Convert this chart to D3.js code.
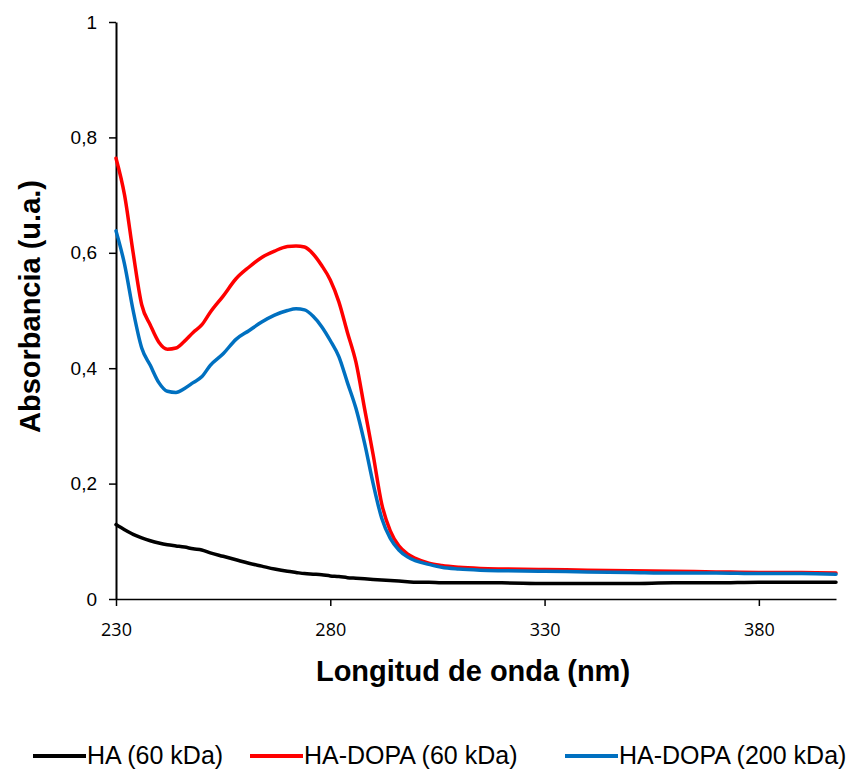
<!DOCTYPE html>
<html>
<head>
<meta charset="utf-8">
<script src="https://cdn.jsdelivr.net/npm/d3@7"></script>
<style>
  body { margin: 0; background: #fff; }
  text { font-family: "Liberation Sans", Arial, sans-serif; }
</style>
</head>
<body>
<div id="chart"></div>
<script>
'use strict';

// wavelength (nm)
const wavelengths = [230, 232, 234, 236, 238, 240, 242, 244, 246, 248, 250, 252, 255, 258, 261, 264, 267, 270, 272, 274,
    276, 278, 280, 282, 284, 286, 288, 290, 292, 294, 296, 298, 300, 303, 306, 310, 315, 320, 330, 340,
    350, 360, 370, 380, 390, 398];

const haValues = [0.129, 0.120, 0.112, 0.106, 0.101, 0.097, 0.094, 0.092, 0.090, 0.087, 0.085, 0.080, 0.074, 0.068, 0.062, 0.057, 0.052, 0.048, 0.046, 0.044,
    0.043, 0.042, 0.040, 0.039, 0.037, 0.036, 0.035, 0.034, 0.033, 0.032, 0.031, 0.030, 0.029, 0.029, 0.028, 0.028, 0.028, 0.028, 0.027, 0.027,
    0.027, 0.028, 0.028, 0.029, 0.029, 0.029];

const haDopa60Values = [0.764, 0.700, 0.600, 0.510, 0.475, 0.445, 0.433, 0.435, 0.447, 0.462, 0.475, 0.497, 0.525, 0.555, 0.575, 0.592, 0.603, 0.611, 0.612, 0.610,
    0.598, 0.578, 0.553, 0.515, 0.462, 0.410, 0.330, 0.250, 0.165, 0.118, 0.092, 0.078, 0.070, 0.062, 0.058, 0.055, 0.053, 0.052, 0.051, 0.050,
    0.049, 0.048, 0.047, 0.046, 0.046, 0.045];

const haDopa200Values = [0.638, 0.580, 0.500, 0.435, 0.405, 0.375, 0.360, 0.358, 0.365, 0.375, 0.385, 0.405, 0.425, 0.450, 0.465, 0.480, 0.492, 0.500, 0.503, 0.501,
    0.490, 0.472, 0.448, 0.420, 0.375, 0.330, 0.270, 0.200, 0.140, 0.105, 0.085, 0.073, 0.066, 0.060, 0.055, 0.052, 0.050, 0.049, 0.048, 0.047,
    0.046, 0.045, 0.045, 0.044, 0.044, 0.043];

const seriesNames = ['HA (60 kDa)', 'HA-DOPA (60 kDa)', 'HA-DOPA (200 kDa)'];
const seriesColors = ['#000000', '#ff0000', '#0070c0'];

const xTicks = [230, 280, 330, 380];
const yTicks = [0, 0.2, 0.4, 0.6, 0.8, 1];

const width = 855, height = 772;
const margin = {top: 22, right: 19, bottom: 173, left: 116};
const innerW = width - margin.left - margin.right;
const innerH = height - margin.top - margin.bottom;

const svg = d3.select('#chart').append('svg')
    .attr('width', width)
    .attr('height', height);

const g = svg.append('g')
    .attr('transform', 'translate(' + margin.left + ',' + margin.top + ')');

const x = d3.scaleLinear().domain([230, 398]).range([0, innerW]);
const y = d3.scaleLinear().domain([0, 1]).range([innerH, 0]);

// x axis
const xAxis = g.append('g')
    .attr('transform', 'translate(0,' + innerH + ')')
    .call(d3.axisBottom(x).tickValues(xTicks).tickSize(7).tickSizeOuter(0).tickPadding(17));
xAxis.select('.domain').attr('stroke', '#000').attr('stroke-width', 1.5);
xAxis.selectAll('.tick line').attr('stroke', '#000').attr('stroke-width', 1.5);
xAxis.selectAll('text')
    .style('font-family', '"Open Sans", "Liberation Sans", sans-serif')
    .style('font-size', '18px').attr('fill', '#000');

// y axis
const fmt = d => d === 0 ? '0' : d === 1 ? '1' : d3.format('.1f')(d).replace('.', ',');
const yAxis = g.append('g')
    .call(d3.axisLeft(y).tickValues(yTicks).tickFormat(fmt).tickSize(7).tickSizeOuter(0).tickPadding(12));
yAxis.select('.domain').attr('stroke', '#000').attr('stroke-width', 2);
yAxis.selectAll('.tick line').attr('stroke', '#000').attr('stroke-width', 1.5);
yAxis.selectAll('text').style('font-size', '19px').attr('fill', '#000');

// axis titles
g.append('text')
    .attr('x', innerW / 2 - 3)
    .attr('y', innerH + 82)
    .style('text-anchor', 'middle')
    .style('font-size', '29px')
    .style('font-weight', 'bold')
    .text('Longitud de onda (nm)');

g.append('text')
    .attr('transform', 'rotate(-90)')
    .attr('x', -(innerH / 2) + 4)
    .attr('y', -76)
    .style('text-anchor', 'middle')
    .style('font-size', '29px')
    .style('font-weight', 'bold')
    .text('Absorbancia (u.a.)');

// lines
const allValues = [haValues, haDopa60Values, haDopa200Values];
const line = d3.line()
    .x((d, i) => x(wavelengths[i]))
    .y(d => y(d))
    .curve(d3.curveMonotoneX);

allValues.forEach(function (vals, idx) {
    g.append('path')
        .datum(vals)
        .attr('d', line)
        .attr('fill', 'none')
        .attr('stroke', seriesColors[idx])
        .attr('stroke-width', 3.5)
        .attr('stroke-linejoin', 'round')
        .attr('stroke-linecap', 'round');
});

// legend
const legendX = [33, 250, 565];
const legend = svg.append('g').attr('transform', 'translate(0,756)');
seriesNames.forEach(function (name, idx) {
    legend.append('line')
        .attr('x1', legendX[idx]).attr('x2', legendX[idx] + 53)
        .attr('y1', 0).attr('y2', 0)
        .attr('stroke', seriesColors[idx])
        .attr('stroke-width', 4);
    legend.append('text')
        .attr('x', legendX[idx] + 54)
        .attr('y', 8)
        .style('font-size', '25px')
        .text(name);
});
</script>
</body>
</html>
